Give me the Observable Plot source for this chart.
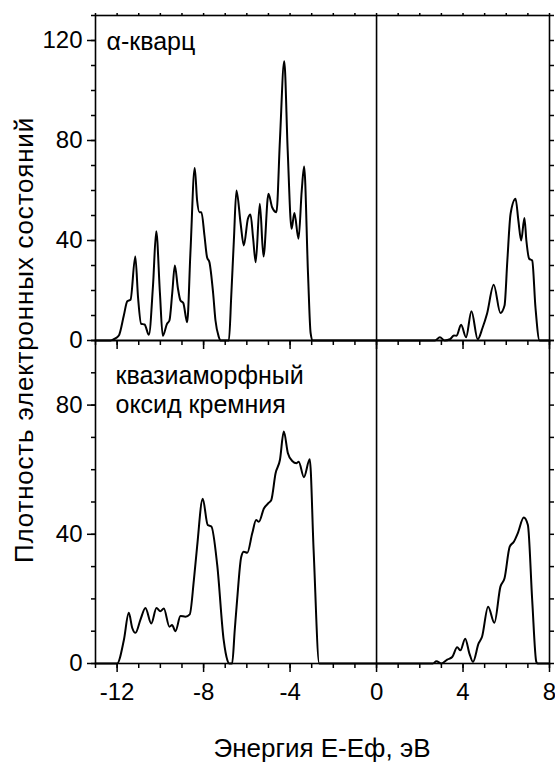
<!DOCTYPE html>
<html><head><meta charset="utf-8">
<script src="https://cdn.jsdelivr.net/npm/d3@7"></script>
<script src="https://cdn.jsdelivr.net/npm/@observablehq/plot@0.6"></script>
<style>
body{margin:0;background:#fff;font-family:"Liberation Sans",Arial,sans-serif;}
#wrap{position:relative;width:555px;height:762px;overflow:hidden;}
#wrap svg{position:absolute;left:0;}
.ylab{position:absolute;left:-276px;top:327px;width:600px;height:26px;line-height:26px;text-align:center;font-size:26px;letter-spacing:0.8px;transform:rotate(-90deg);transform-origin:center;white-space:nowrap;}
.xlab{position:absolute;left:95px;width:454px;top:735px;line-height:26px;text-align:center;font-size:26px;white-space:nowrap;}
</style></head>
<body><div id="wrap"></div>
<script>
// α-quartz DOS
const quartzE = [-13,-12.3,-12.15,-11.92,-11.69,-11.53,-11.38,-11.16,-11.03,-10.89,-10.73,-10.53,-10.34,-10.19,-10.02,-9.89,-9.69,-9.58,-9.45,-9.33,-9.19,-9.07,-8.94,-8.76,-8.61,-8.41,-8.3,-8.19,-8.10,-7.96,-7.84,-7.73,-7.56,-7.45,-7.3,-7.22,-6.83,-6.72,-6.6,-6.48,-6.29,-6.14,-5.95,-5.83,-5.71,-5.59,-5.40,-5.23,-5.0,-4.83,-4.63,-4.47,-4.27,-4.11,-3.93,-3.80,-3.61,-3.46,-3.35,-3.17,-3.05,-2.95,2.7,2.93,3.15,3.4,3.58,3.70,3.91,4.14,4.39,4.68,4.9,5.11,5.42,5.73,5.92,6.05,6.20,6.43,6.56,6.69,6.84,6.93,7.06,7.20,7.35,7.54,8];
const quartzV = [0,0,0.5,2,10,15.7,16.3,33.6,17,6.7,6.4,2.3,22,43.7,19,1.9,6.7,8,19,30,21,16,15,7.3,35,69,56,51.3,51.3,42,33.3,31.3,19,8,1.5,0,0,18,40,60,47,38,48.7,50.4,41,31.3,54.7,33.6,58.7,53.3,51.3,80,111.7,76,44.7,51,40.7,60,69.6,26.7,3,0,0,1.3,0,0.5,2,1.9,6.3,1.3,11.7,0.5,5,10.7,22.3,11,14,32,50.7,56.7,48,40,49,40,32.7,32,13.3,0,0];
// quasi-amorphous silicon oxide DOS
const amorphE = [-13,-12.0,-11.69,-11.46,-11.3,-11.15,-10.92,-10.69,-10.42,-10.18,-10.0,-9.84,-9.58,-9.46,-9.30,-9.07,-8.84,-8.64,-8.45,-8.30,-8.04,-7.81,-7.64,-7.37,-7.07,-6.9,-6.83,-6.68,-6.56,-6.45,-6.26,-6.14,-5.98,-5.75,-5.57,-5.44,-5.21,-4.98,-4.87,-4.67,-4.47,-4.29,-4.10,-3.90,-3.70,-3.60,-3.36,-3.09,-2.91,-2.65,2.6,2.77,3.0,3.27,3.5,3.73,3.88,4.1,4.3,4.46,4.72,4.88,5.16,5.45,5.73,5.92,6.16,6.35,6.53,6.81,7.0,7.20,7.39,7.45,8];
const amorphV = [0,0,7.2,15.7,11,9.5,13.6,17.2,12.4,17.2,16.2,17,11.4,11.9,10,14.7,14.5,15.2,25.8,36.2,51,42.9,42.4,30.5,7.2,1,0,0,10.3,19.6,33,34.6,34.3,40.3,44.4,43.9,48,49.8,50.6,58.9,63,71.8,65.1,62.7,62,62.5,57.7,63.2,35,0,0,0.7,0,1.2,2,5,4.1,7.7,3,0.5,6.2,8.3,17.6,12.6,23.8,26.4,36.2,37.7,40.3,45.2,42.9,19.6,0.5,0,0];

const xDomain = [-13, 8];
const xMajorTicks = [-12, -8, -4, 0, 4, 8];
const xMinorTicks = d3.range(-13, 9, 1);
const yTopDomain = [0, 130];
const yTopMajor = [0, 40, 80, 120];
const yTopMinor = d3.range(0, 131, 10);
const yBotDomain = [0, 100];
const yBotMajor = [0, 40, 80];
const yBotMinor = d3.range(0, 101, 10);
const labelTop = "α-кварц";
const labelBot = "квазиаморфный\nоксид кремния";
const xTitle = "Энергия Е-Еф, эВ";
const yTitle = "Плотность электронных состояний";

const quartz = quartzE.map((e, i) => ({e, v: quartzV[i]}));
const amorph = amorphE.map((e, i) => ({e, v: amorphV[i]}));

const font = '"Liberation Sans", Arial, sans-serif';
const blank = () => "";
const plain = d => String(d);
const common = {
  width: 555, marginLeft: 95, marginRight: 6,
  x: {domain: xDomain},
  style: {background: "transparent", overflow: "visible", fontFamily: font, color: "black"}
};

const botPlot = Plot.plot({
  ...common, height: 384, marginTop: 10, marginBottom: 51,
  y: {domain: yBotDomain},
  marks: [
    Plot.axisY({ticks: yBotMajor, tickSize: 8, tickPadding: 5, fontSize: 24, tickFormat: plain, label: null, strokeWidth: 1.5}),
    Plot.axisY({ticks: yBotMinor, tickSize: 4, tickFormat: blank, label: null, strokeWidth: 1.5}),
    Plot.axisY({anchor: "right", ticks: yBotMinor, tickSize: 4, tickFormat: blank, label: null, strokeWidth: 1.5}),
    Plot.axisX({ticks: xMajorTicks, tickSize: 9, tickPadding: 10, fontSize: 24, tickFormat: plain, label: null, strokeWidth: 1.5}),
    Plot.axisX({ticks: xMinorTicks, tickSize: 5, tickFormat: blank, label: null, strokeWidth: 1.5}),
    Plot.ruleX([0], {strokeWidth: 1.6}),
    Plot.line(amorph, {x: "e", y: "v", curve: "monotone-x", strokeWidth: 2}),
    Plot.text([labelBot], {frameAnchor: "top-left", textAnchor: "start", lineAnchor: "top", dx: 20, dy: 23, fontSize: 25, lineHeight: 1.16, fontFamily: font}),
    Plot.frame({strokeWidth: 1.6})
  ]
});
botPlot.style.top = "330px";

const topPlot = Plot.plot({
  ...common, height: 350, marginTop: 15, marginBottom: 10,
  y: {domain: yTopDomain},
  marks: [
    Plot.axisY({ticks: yTopMajor, tickSize: 8, tickPadding: 5, fontSize: 24, tickFormat: plain, label: null, strokeWidth: 1.5}),
    Plot.axisY({ticks: yTopMinor, tickSize: 4, tickFormat: blank, label: null, strokeWidth: 1.5}),
    Plot.axisY({anchor: "right", ticks: yTopMinor, tickSize: 4, tickFormat: blank, label: null, strokeWidth: 1.5}),
    Plot.axisX({anchor: "top", ticks: xMinorTicks, tickSize: 3, tickFormat: blank, label: null, strokeWidth: 1.5}),
    Plot.axisX({ticks: xMajorTicks, tickSize: 9, tickFormat: blank, label: null, strokeWidth: 1.5}),
    Plot.axisX({ticks: xMinorTicks, tickSize: 5, tickFormat: blank, label: null, strokeWidth: 1.5}),
    Plot.ruleX([0], {strokeWidth: 1.6}),
    Plot.line(quartz, {x: "e", y: "v", curve: "monotone-x", strokeWidth: 2}),
    Plot.text([labelTop], {frameAnchor: "top-left", textAnchor: "start", lineAnchor: "top", dx: 11, dy: 17, fontSize: 25, fontFamily: font}),
    Plot.frame({strokeWidth: 1.6})
  ]
});
topPlot.style.top = "0px";

const wrap = document.getElementById("wrap");
wrap.appendChild(botPlot);
wrap.appendChild(topPlot);
const yl = document.createElement("div"); yl.className = "ylab"; yl.textContent = yTitle; wrap.appendChild(yl);
const xl = document.createElement("div"); xl.className = "xlab"; xl.textContent = xTitle; wrap.appendChild(xl);
</script>
</body></html>
